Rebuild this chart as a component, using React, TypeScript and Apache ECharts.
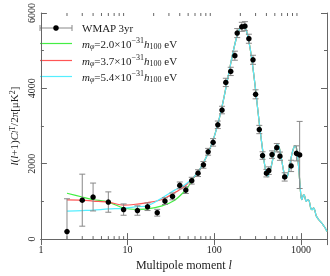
import React, { useEffect, useRef } from "react";
import * as echarts from "echarts";

// WMAP 3yr binned band powers
const wmapL = [2, 3, 4, 6, 9, 13, 17, 22, 27, 33, 40, 47, 55, 65, 75, 85, 97, 110, 123, 136, 155, 173, 184, 208, 226, 251, 280, 300, 331, 361, 400, 426, 464, 527, 573, 650, 771, 888, 967];
const wmapV = [200, 1033, 1117, 983, 783, 758, 858, 700, 1008, 1133, 1425, 1300, 1550, 1750, 1970, 2317, 2567, 3033, 3425, 4158, 4450, 4867, 5467, 5633, 5650, 5317, 4758, 3842, 2908, 2217, 1750, 1817, 2242, 2425, 2200, 1650, 1942, 2275, 2233];
const wmapE = [870, 690, 370, 270, 150, 125, 100, 90, 90, 90, 90, 90, 90, 90, 90, 90, 100, 100, 100, 110, 110, 120, 120, 120, 120, 120, 120, 120, 110, 100, 100, 100, 100, 110, 110, 110, 150, 200, 890];

// model curves: low-l part differs per mass
const lowL = [2, 3, 4, 6, 9, 13, 17, 25, 35, 45, 50];
const greenLow = [1217, 1117, 1050, 983, 825, 790, 800, 883, 1033, 1260, 1390];
const redLow = [1040, 1033, 1010, 983, 900, 930, 967, 1050, 1233, 1390, 1490];
const cyanLow = [742, 758, 770, 800, 817, 860, 883, 1092, 1300, 1430, 1510];

// common high-l part
const highL = [60, 70, 80, 90, 100, 110, 120, 130, 140, 150, 160, 170, 180, 190, 200, 210, 220, 230, 240, 250, 260, 270, 280, 290, 300, 320, 340, 360, 380, 400, 410, 420, 440, 460, 480, 500, 520, 540, 560, 580, 600, 625, 650, 670, 700, 725, 750, 775, 800, 825, 850, 875, 900, 925, 950, 975, 1000, 1025, 1050, 1075, 1100, 1150, 1200, 1250, 1300, 1350, 1400, 1450, 1500, 1600, 1700, 1800, 1900, 2000];
const highV = [1680, 1900, 2150, 2420, 2720, 3050, 3400, 3780, 4150, 4500, 4820, 5100, 5330, 5500, 5610, 5660, 5650, 5580, 5450, 5270, 5050, 4800, 4530, 4250, 3960, 3380, 2850, 2400, 2000, 1720, 1660, 1680, 1800, 1980, 2180, 2370, 2490, 2510, 2440, 2300, 2100, 1860, 1680, 1620, 1680, 1820, 2000, 2180, 2320, 2420, 2470, 2460, 2350, 2100, 1800, 1450, 1150, 1050, 1120, 1180, 1150, 1000, 1050, 1000, 820, 780, 830, 760, 620, 520, 450, 380, 300, 200];

const xTicks = [1, 10, 100, 1000];
const yTicks = [0, 2000, 4000, 6000];
const minorX = [2, 3, 4, 5, 6, 7, 8, 9, 20, 30, 40, 50, 60, 70, 80, 90, 200, 300, 400, 500, 600, 700, 800, 900];

const FONT = "'Liberation Serif', 'DejaVu Serif', serif";

function curve(low: number[]) {
  return [
    ...lowL.map((l, i) => [l, low[i]]),
    ...highL.map((l, i) => [l, highV[i]]),
  ];
}

export default function App() {
  const ref = useRef<HTMLDivElement>(null);
  useEffect(() => {
    const chart = echarts.init(ref.current!, null, { renderer: "svg" });
    const axisColor = "#666";
    const textColor = "#222";
    const baseX = {
      type: "log",
      logBase: 10,
      min: 1,
      max: 2000,
      axisLine: { show: true, lineStyle: { color: axisColor, width: 1 } },
      axisTick: { show: true, inside: true, length: 6, lineStyle: { color: axisColor } },
      splitLine: { show: false },
    };
    const baseY = {
      type: "value",
      min: 0,
      max: 6000,
      interval: 2000,
      axisLine: { show: true, lineStyle: { color: axisColor, width: 1 } },
      axisTick: { show: true, inside: true, length: 6, lineStyle: { color: axisColor } },
      minorTick: { show: true, splitNumber: 2, length: 3, lineStyle: { color: axisColor } },
      splitLine: { show: false },
    };
    const lineSeries = (name: string, color: string, low: number[]) => ({
      type: "line",
      name,
      data: curve(low),
      showSymbol: false,
      smooth: 0.3,
      lineStyle: { color, width: 1.2 },
      itemStyle: { color },
      z: 3,
    });
    const legRich = {
      i: { fontFamily: FONT, fontStyle: "italic", fontSize: 11, fill: textColor },
      n: { fontFamily: FONT, fontSize: 11, fill: textColor },
      sub: { fontFamily: FONT, fontStyle: "italic", fontSize: 8, verticalAlign: "bottom", fill: textColor },
      subn: { fontFamily: FONT, fontSize: 8, verticalAlign: "bottom", fill: textColor },
      sup: { fontFamily: FONT, fontSize: 8, verticalAlign: "top", fill: textColor },
    };
    const legendRow = (y: number, color: string, mass: string) => [
      { type: "line", shape: { x1: 40, y1: y, x2: 72, y2: y }, style: { stroke: color, lineWidth: 1.2 } },
      {
        type: "text",
        x: 82,
        y,
        style: {
          text: `{i|m}{sub|φ}{n|=${mass}×10}{sup|−31}{i|h}{subn|100}{n| eV}`,
          rich: legRich,
          verticalAlign: "middle",
          fontFamily: FONT,
          fontSize: 11,
          lineHeight: 14,
        },
      },
    ];
    chart.setOption({
      animation: false,
      textStyle: { fontFamily: FONT },
      grid: { left: 29, right: 2, top: 12, bottom: 24, containLabel: false },
      xAxis: [
        {
          ...baseX,
          position: "bottom",
          axisLabel: { show: true, fontSize: 10, color: textColor, margin: 5, fontFamily: FONT, formatter: (v: number) => (xTicks.includes(v) ? String(v) : "") },
          name: "Multipole moment {i|l}",
          nameLocation: "middle",
          nameGap: 11,
          nameTextStyle: {
            fontSize: 12,
            color: textColor,
            fontFamily: FONT,
            rich: { i: { fontSize: 12, fontStyle: "italic", fontFamily: FONT, color: textColor } },
          },
        },
        { ...baseX, position: "top", axisLabel: { show: false } },
      ],
      yAxis: [
        {
          ...baseY,
          position: "left",
          axisLabel: { show: true, rotate: 90, fontSize: 10, color: textColor, margin: 4, fontFamily: FONT, formatter: (v: number) => (yTicks.includes(v) ? String(v) : "") },
          name: "{i|l}{n|(}{i|l}{n|+1)}{i|C}{sub|l}{sup|T}{n|/2π[μK}{sup|2}{n|]}",
          nameLocation: "middle",
          nameGap: 13,
          nameRotate: 90,
          nameTextStyle: {
            fontSize: 11,
            color: textColor,
            fontFamily: FONT,
            rich: {
              i: { fontSize: 11, fontStyle: "italic", fontFamily: FONT, color: textColor },
              n: { fontSize: 11, fontFamily: FONT, color: textColor },
              sub: { fontSize: 8, fontStyle: "italic", fontFamily: FONT, color: textColor, verticalAlign: "bottom" },
              sup: { fontSize: 8, fontFamily: FONT, color: textColor, verticalAlign: "top" },
            },
          },
        },
        { ...baseY, position: "right", axisLabel: { show: false } },
      ],
      series: [
        {
          type: "custom",
          name: "minorTicks",
          silent: true,
          data: minorX.map((v) => [v, 0]),
          encode: { x: 0, y: 1 },
          renderItem: (params: any, api: any) => {
            const v = api.value(0);
            const b = api.coord([v, 0]);
            const t = api.coord([v, 6000]);
            return {
              type: "group",
              children: [
                { type: "line", shape: { x1: b[0], y1: b[1], x2: b[0], y2: b[1] - 3 }, style: { stroke: axisColor, lineWidth: 1 } },
                { type: "line", shape: { x1: t[0], y1: t[1], x2: t[0], y2: t[1] + 3 }, style: { stroke: axisColor, lineWidth: 1 } },
              ],
            };
          },
          z: 1,
        },
        lineSeries("green", "#44ee44", greenLow),
        lineSeries("red", "#ff5555", redLow),
        lineSeries("cyan", "#55eeff", cyanLow),
        {
          type: "custom",
          name: "errors",
          data: wmapL.map((l, i) => [l, wmapV[i] - wmapE[i], wmapV[i] + wmapE[i]]),
          encode: { x: 0, y: [1, 2] },
          renderItem: (params: any, api: any) => {
            const x = api.value(0);
            const lo = api.value(1);
            const hi = api.value(2);
            const p1 = api.coord([x, Math.max(lo, 0)]);
            const p2 = api.coord([x, hi]);
            const w = 3;
            const st = { stroke: "#888", lineWidth: 1 };
            const children: any[] = [
              { type: "line", shape: { x1: p1[0], y1: p1[1], x2: p2[0], y2: p2[1] }, style: st },
              { type: "line", shape: { x1: p2[0] - w, y1: p2[1], x2: p2[0] + w, y2: p2[1] }, style: st },
            ];
            if (lo >= 0) children.push({ type: "line", shape: { x1: p1[0] - w, y1: p1[1], x2: p1[0] + w, y2: p1[1] }, style: st });
            return { type: "group", children };
          },
          z: 4,
        },
        {
          type: "scatter",
          name: "WMAP 3yr",
          data: wmapL.map((l, i) => [l, wmapV[i]]),
          symbol: "circle",
          symbolSize: 5.5,
          itemStyle: { color: "#000", opacity: 1 },
          z: 5,
        },
      ],
      graphic: [
        { type: "line", shape: { x1: 40, y1: 28, x2: 72, y2: 28 }, style: { stroke: "#888", lineWidth: 1 } },
        { type: "line", shape: { x1: 40, y1: 25, x2: 40, y2: 31 }, style: { stroke: "#888", lineWidth: 1 } },
        { type: "line", shape: { x1: 72, y1: 25, x2: 72, y2: 31 }, style: { stroke: "#888", lineWidth: 1 } },
        { type: "circle", shape: { cx: 56, cy: 28, r: 2.8 }, style: { fill: "#000" } },
        { type: "text", x: 82, y: 28, style: { text: "WMAP 3yr", fontFamily: FONT, fontSize: 11, fill: textColor, verticalAlign: "middle" } },
        ...legendRow(43.5, "#44ee44", "2.0"),
        ...legendRow(60.5, "#ff5555", "3.7"),
        ...legendRow(76.5, "#55eeff", "5.4"),
      ],
    });
    return () => chart.dispose();
  }, []);
  return <div ref={ref} style={{ position: "fixed", left: 0, top: 0, width: 330, height: 276 }} />;
}
